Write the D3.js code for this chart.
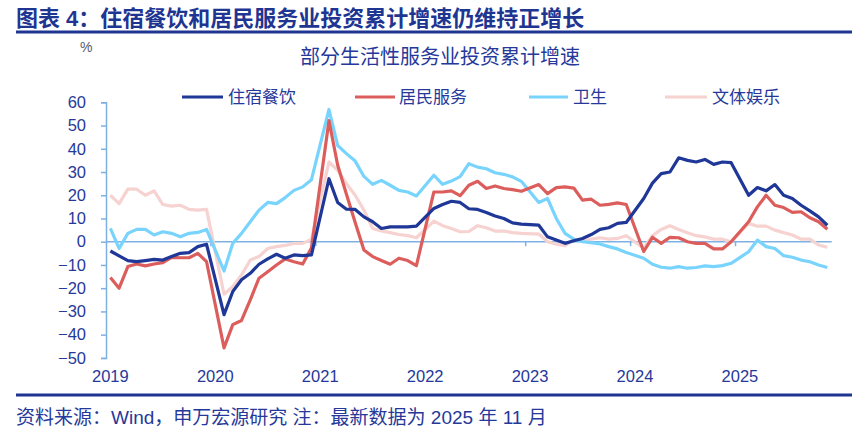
<!DOCTYPE html>
<html>
<head>
<meta charset="utf-8">
<script src="https://cdn.jsdelivr.net/npm/d3@7"></script>
<style>
  html, body { margin: 0; padding: 0; background: #fff; }
  svg { display: block; }
  text { font-family: "Liberation Sans", Arial, "Noto Sans CJK SC", sans-serif; }
</style>
</head>
<body>
<svg id="chart" width="852" height="431"></svg>
<script>
// ---------- data ----------
const years = [2019, 2020, 2021, 2022, 2023, 2024, 2025];
const lastMonth = 11; // data through Nov 2025
const seriesNames = ["住宿餐饮", "居民服务", "卫生", "文体娱乐"];
const yTicks = [60, 50, 40, 30, 20, 10, 0, -10, -20, -30, -40, -50];

// Monthly cumulative growth (%), Jan 2019 .. Nov 2025 (Jan of later years not published)
const lodging = [
  -4, -6.1, -8.1, -8.6, -8.1, -7.6, -7.9, -6.4, -5, -4.7, -2.1, -1.1,
  null, -31.4, -21.4, -16.4, -13.6, -9.7, -7.4, -5.4, -7.1, -5.7, -6.0, -5.7,
  null, 27.1, 16.9, 14, 13.9, 10.7, 8.6, 5.7, 6.4, 6.4, 6.4, 6.7,
  null, 14.3, 16, 17.4, 16.9, 14.2, 13.9, 12.6, 11.1, 10, 8.1, 7.6,
  null, 7.1, 2.1, 0.7, -0.7, 0.4, 1.4, 3.1, 5.3, 6, 7.9, 8.3,
  null, 18.6, 25.2, 29.3, 30, 36.1, 35, 34.3, 35.4, 33.3, 34.3, 34,
  null, 20, 23.3, 21.9, 24.6, 20, 18.6, 15.7, 13.3, 10.7, 7.1
];
const residential = [
  -15.4, -20, -10.7, -9.6, -10.4, -9.6, -9, -6.7, -6.9, -6.9, -5, -8.6,
  null, -45.7, -35.7, -33.9, -25, -15.7, -12.9, -10, -7.4, -8.6, -9.6, -2.6,
  null, 52.1, 32.9, 20.4, 8.3, -3.6, -6.4, -8.1, -9.7, -7.1, -8.1, -10.3,
  null, 21.4, 21.4, 21.9, 19.8, 24.3, 26, 22.9, 24, 22.9, 22.4, 21.7,
  null, 24.6, 20.7, 23.3, 23.6, 23.1, 17.9, 18.3, 15.7, 16.1, 16.7, 16,
  null, -4.2, 1.9, -0.7, 1.9, 1.7, 0, -0.7, -0.7, -3.1, -3.1, 0,
  null, 8.6, 15, 20, 15.7, 14.7, 12.6, 12.9, 10.3, 8.6, 5.4
];
const health = [
  5.7, -2.9, 3.6, 5.3, 5.3, 2.9, 4.3, 3.6, 2.1, 3.6, 4, 5.3,
  null, -12.6, -0.7, 3.6, 8.6, 13.6, 16.9, 16.4, 19, 22.1, 23.6, 26.7,
  null, 56.9, 41.4, 37.9, 34.7, 28.1, 24.7, 26.4, 24.3, 22.1, 21.4, 19.7,
  null, 28.6, 24.7, 26.1, 28, 33.6, 32.1, 31.4, 29.7, 29, 27.9, 26,
  null, 16.9, 18.6, 10, 3.6, 1.1, 0, -0.4, -1, -2.1, -3.1, -4.6,
  null, -7.1, -9.7, -11, -11.4, -10.7, -11.4, -11.1, -10.4, -10.7, -10.3, -9.3,
  null, -4.3, 0.7, -2.1, -2.9, -6, -6.7, -7.9, -8.6, -10, -11.1
];
const culture = [
  20, 16.4, 22.6, 22.6, 20, 21.9, 16, 15.3, 15.7, 13.9, 13.6, 13.9,
  null, -22.6, -19.3, -14.3, -7.9, -6.4, -2.9, -2.1, -1.6, -0.7, -0.7, 1.1,
  null, 34.3, 30.7, 25, 20, 13.6, 5.7, 4.6, 3.9, 3.1, 2.6, 1.7,
  null, 8.9, 6.9, 5.7, 4.3, 4.4, 6.9, 6, 4.6, 4.6, 3.9, 3.6,
  null, 3.3, 0, -1.1, -1.7, 1.1, 0.3, 1.1, 1.7, 1.1, 1.4, 2.6,
  null, -2.8, 2.6, 5.3, 6.9, 5.3, 3.9, 2.6, 2.1, 1.1, 1.1, 0,
  null, 7.9, 6.7, 6.7, 5, 3.9, 2.9, 1.1, 1.1, -1.4, -2.4
];

// ---------- categories ----------
const months = [];
years.forEach(y => { for (let m = 1; m <= 12; m++) months.push(y + "-" + String(m).padStart(2, "0")); });
const categories = months.slice(0, months.length - (12 - lastMonth));

// ---------- styles ----------
const navy = "#1E3592";
const textColor = "#26399A";
const axisColor = "#7EB1E3";
const colors = ["#1F3797", "#DC5E5C", "#78D4FD", "#F6D2D0"];
const seriesData = [lodging, residential, health, culture];

const svg = d3.select("#chart");

// Title & rules
svg.append("text").attr("x", 16).attr("y", 26)
  .attr("fill", navy).attr("font-size", 22).attr("font-weight", "bold")
  .attr("font-family", "'Noto Sans CJK SC', 'Liberation Sans', sans-serif")
  .text("图表 4：住宿餐饮和居民服务业投资累计增速仍维持正增长");
svg.append("rect").attr("x", 16).attr("y", 30.5).attr("width", 836).attr("height", 3).attr("fill", navy);

svg.append("text").attr("x", 80).attr("y", 52).attr("fill", "#555a70").attr("font-size", 14).text("%");

svg.append("text").attr("x", 440).attr("y", 64).attr("text-anchor", "middle")
  .attr("fill", textColor).attr("font-size", 20)
  .attr("font-family", "'Noto Sans CJK SC', sans-serif")
  .text("部分生活性服务业投资累计增速");

// Scales
const x = d3.scaleBand().domain(categories).range([106, 831.7]).padding(0);
const y = d3.scaleLinear().domain([-50, 60]).range([357.9, 102.3]);
const cx = c => x(c) + x.bandwidth() / 2;

// Y axis
const yAxis = svg.append("g").attr("transform", "translate(106,0)")
  .call(d3.axisLeft(y).tickValues(yTicks).tickSize(5).tickPadding(15).tickFormat(d3.format("d")));
yAxis.select(".domain").attr("stroke", axisColor).attr("stroke-width", 1.5);
yAxis.selectAll(".tick line").attr("stroke", axisColor).attr("stroke-width", 1.5);
yAxis.selectAll(".tick text").attr("fill", textColor).attr("font-size", 16.5)
  .attr("font-family", "'Liberation Sans', Arial, sans-serif");

// X axis line at zero with year-boundary ticks
const y0 = y(0);
const janCats = categories.filter(c => c.endsWith("-01"));
svg.append("line").attr("x1", 106).attr("x2", 831.7).attr("y1", y0).attr("y2", y0)
  .attr("stroke", axisColor).attr("stroke-width", 1.5);
svg.append("g").selectAll("line").data(janCats.slice(1)).join("line")
  .attr("x1", d => x(d)).attr("x2", d => x(d)).attr("y1", y0).attr("y2", y0 + 4.5)
  .attr("stroke", axisColor).attr("stroke-width", 1.5);

// Year labels
const xAxis = svg.append("g").attr("transform", "translate(0,368)")
  .call(d3.axisBottom(x).tickValues(janCats).tickSize(0).tickPadding(0)
    .tickFormat(d => d.slice(0, 4)));
xAxis.select(".domain").remove();
xAxis.selectAll(".tick text").attr("fill", textColor).attr("font-size", 16.5)
  .attr("font-family", "'Liberation Sans', Arial, sans-serif").attr("dy", "0.85em");

// Lines (drawn so the navy series sits on top)
const line = d3.line().x(d => cx(d.c)).y(d => y(d.v));
const drawOrder = [3, 2, 1, 0];
drawOrder.forEach(i => {
  const pts = categories.map((c, k) => ({ c, v: seriesData[i][k] })).filter(d => d.v !== null && d.v !== undefined);
  svg.append("path").datum(pts).attr("d", line)
    .attr("fill", "none").attr("stroke", colors[i]).attr("stroke-width", 3.2)
    .attr("stroke-linejoin", "round");
});

// Legend
const legendItems = [
  { x1: 182, x2: 223, tx: 228 },
  { x1: 355, x2: 395, tx: 399 },
  { x1: 529, x2: 568, tx: 573 },
  { x1: 665, x2: 707, tx: 712 }
];
const lg = svg.append("g");
legendItems.forEach((it, i) => {
  lg.append("line").attr("x1", it.x1).attr("x2", it.x2).attr("y1", 97).attr("y2", 97)
    .attr("stroke", colors[i]).attr("stroke-width", 3.2);
  lg.append("text").attr("x", it.tx).attr("y", 103).attr("fill", textColor).attr("font-size", 17)
    .attr("font-family", "'Noto Sans CJK SC', sans-serif").text(seriesNames[i]);
});

// Footer
svg.append("rect").attr("x", 16).attr("y", 393.5).attr("width", 836).attr("height", 3).attr("fill", navy);
svg.append("text").attr("x", 16).attr("y", 424).attr("fill", textColor).attr("font-size", 19)
  .attr("font-family", "'Noto Sans CJK SC', 'Liberation Sans', sans-serif")
  .text("资料来源：Wind，申万宏源研究 注：最新数据为 2025 年 11 月");
</script>
</body>
</html>
